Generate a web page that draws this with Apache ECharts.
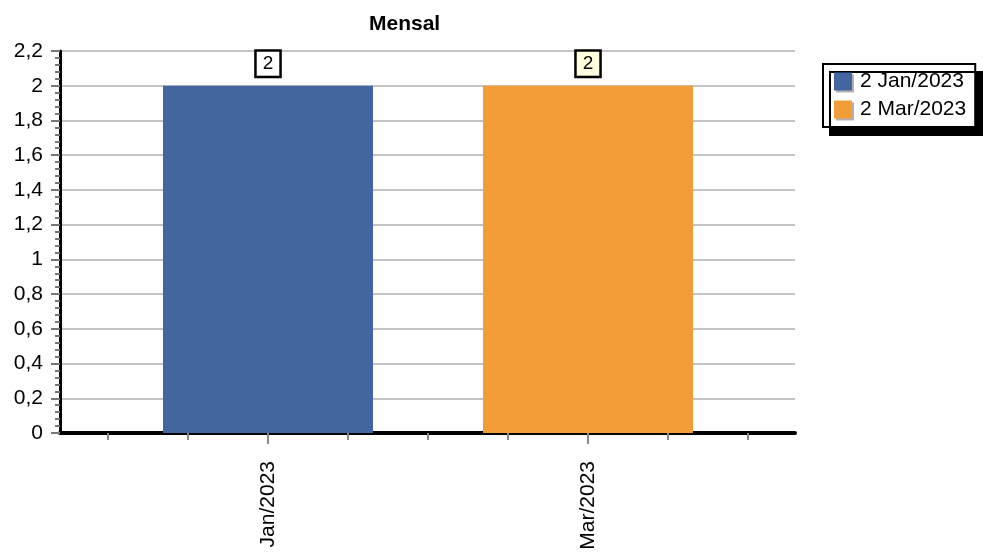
<!DOCTYPE html>
<html>
<head>
<meta charset="utf-8">
<script src="https://cdn.jsdelivr.net/npm/echarts@6/dist/echarts.min.js"></script>
<style>html,body{margin:0;padding:0;background:#fff}#c{width:983px;height:557px}</style>
</head>
<body>
<div id="c"></div>
<script>
const titleText = 'Mensal';
const categories = ['Jan/2023', 'Mar/2023'];
const monthIndex = [0, 2];
const values = [2, 2];
const seriesNames = ['2 Jan/2023', '2 Mar/2023'];
const colors = ['#4466a0', '#f29d38'];
const labelBg = ['#ffffff', '#ffffe0'];
const xMinorTicks = [-1, -0.5, 0.5, 1, 1.5, 2.5, 3];

const FONT = '"Liberation Sans", Arial, sans-serif';
const chart = echarts.init(document.getElementById('c'), null, {renderer: 'canvas'});

const series = categories.map((c, i) => ({
  name: seriesNames[i],
  type: 'bar',
  xAxisIndex: 0,
  barWidth: 210,
  barGap: '-100%',
  itemStyle: {color: colors[i]},
  label: {
    show: true, position: 'top', distance: 10,
    color: '#000', fontSize: 19, fontFamily: FONT,
    backgroundColor: labelBg[i], borderColor: '#000', borderWidth: 2.5,
    padding: [3, 6, 2, 6], lineHeight: 19
  },
  data: [[monthIndex[i], values[i]]]
}));

chart.setOption({
  animation: false,
  backgroundColor: '#fff',
  textStyle: {fontFamily: FONT},
  title: {
    text: titleText, left: 364, top: 9,
    textStyle: {fontSize: 21, fontWeight: 'bold', color: '#000', fontFamily: FONT}
  },
  legend: {
    orient: 'vertical', left: 823, top: 64,
    data: seriesNames,
    icon: 'rect', itemWidth: 18, itemHeight: 18, itemGap: 7,
    padding: [7, 9, 7, 11],
    backgroundColor: '#fff', borderColor: '#000', borderWidth: 2,
    shadowColor: '#000', shadowBlur: 0, shadowOffsetX: 7, shadowOffsetY: 8,
    textStyle: {fontSize: 21, color: '#000', fontFamily: FONT, padding: [0, 0, 0, 3]},
    itemStyle: {shadowColor: 'rgba(0,0,0,0.3)', shadowBlur: 0, shadowOffsetX: 2, shadowOffsetY: 2}
  },
  grid: {left: 60, right: 188, top: 51, bottom: 124, containLabel: false},
  xAxis: [{
    type: 'value', min: -1.3, max: 3.29375,
    axisLine: {show: true, onZero: false, lineStyle: {color: '#000', width: 4}},
    splitLine: {show: false},
    axisTick: {show: true, customValues: monthIndex, length: 11, lineStyle: {color: '#888', width: 2}},
    axisLabel: {
      show: true, customValues: monthIndex, rotate: 90, margin: 28,
      fontSize: 21, color: '#000', fontFamily: FONT,
      formatter: v => { const k = monthIndex.indexOf(Math.round(v)); return k >= 0 ? categories[k] : ''; }
    }
  }, {
    type: 'value', min: -1.3, max: 3.29375, position: 'bottom',
    axisLine: {show: false},
    splitLine: {show: false},
    axisTick: {show: true, customValues: xMinorTicks, length: 7, lineStyle: {color: '#888', width: 2}},
    axisLabel: {show: false}
  }],
  yAxis: {
    type: 'value', min: 0, max: 2.2, interval: 0.2,
    axisLine: {show: true, onZero: false, lineStyle: {color: '#000', width: 3}},
    axisTick: {show: true, length: 9, lineStyle: {color: '#777', width: 2}},
    minorTick: {show: true, splitNumber: 5, length: 5, lineStyle: {color: '#777', width: 2}},
    splitLine: {show: true, lineStyle: {color: '#c4c4c4', width: 2}},
    axisLabel: {
      fontSize: 21, color: '#000', margin: 17, fontFamily: FONT,
      formatter: v => String(+v.toFixed(1)).replace('.', ',')
    }
  },
  series: series
});
</script>
</body>
</html>
